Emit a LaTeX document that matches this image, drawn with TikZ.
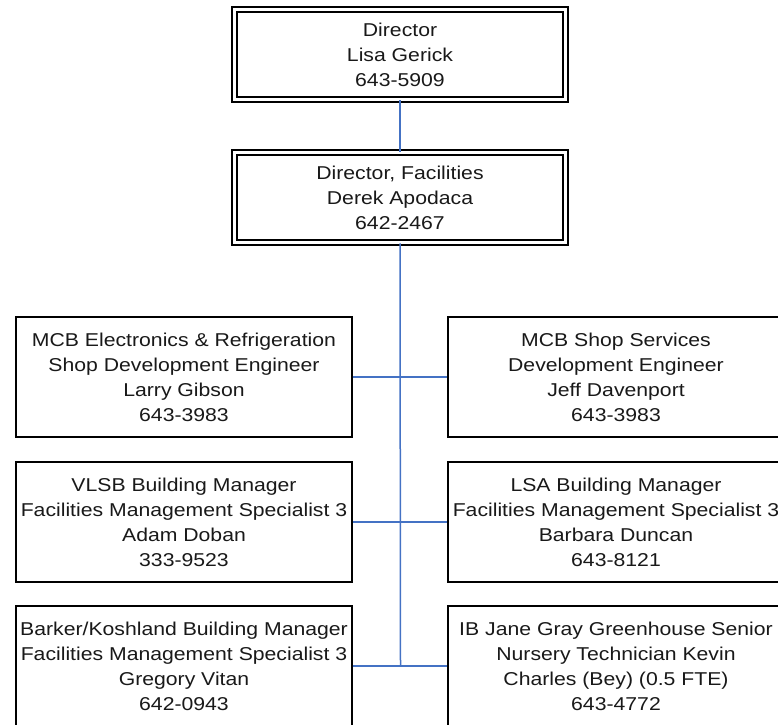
\documentclass[tikz,border=0pt]{standalone}
\usepackage{fontspec}
\setmainfont{Liberation Sans}[FakeStretch=1.14]
\definecolor{linkblue}{RGB}{68,114,196}
\begin{document}
\begin{tikzpicture}[x=1pt,y=-1pt,
  box/.style={draw=black, line width=1.5pt, fill=white, inner sep=0pt, align=center,
    font=\fontsize{18.6}{25}\selectfont, text=black!90},
  dbox/.style={box, double, double distance=3.5pt, minimum width=331pt, minimum height=90pt},
  sbox/.style={box, minimum width=336pt, minimum height=120pt},
  link/.style={draw=linkblue, line width=1.5pt}]
\useasboundingbox (0,0) rectangle (778,724);
\clip (0,0) rectangle (778,724);
% connectors
\coordinate (end) at (400.5,666);
\node[dbox] (dir) at (400,54.5) {Director\\Lisa Gerick\\643-5909};
\node[dbox] (fac) at (400,197.5) {Director, Facilities\\Derek Apodaca\\642-2467};
\node[sbox] (l1) at (184,377) {MCB Electronics \& Refrigeration\\Shop Development Engineer\\Larry Gibson\\643-3983};
\node[sbox] (r1) at (616,377) {MCB Shop Services\\Development Engineer\\Jeff Davenport\\643-3983};
\node[sbox] (l2) at (184,522) {VLSB Building Manager\\Facilities Management Specialist 3\\Adam Doban\\333-9523};
\node[sbox] (r2) at (616,522) {LSA Building Manager\\Facilities Management Specialist 3\\Barbara Duncan\\643-8121};
\node[sbox] (l3) at (184,666) {Barker/Koshland Building Manager\\Facilities Management Specialist 3\\Gregory Vitan\\642-0943};
\node[sbox] (r3) at (616,666) {IB Jane Gray Greenhouse Senior\\Nursery Technician Kevin\\Charles (Bey) (0.5 FTE)\\643-4772};
\draw[link] (dir.south) -- (fac.north);
\draw[link] (fac.south) -- (end);
\draw[link] (l1.east) -- (r1.west);
\draw[link] (l2.east) -- (r2.west);
\draw[link] (l3.east) -- (r3.west);
\end{tikzpicture}
\end{document}
